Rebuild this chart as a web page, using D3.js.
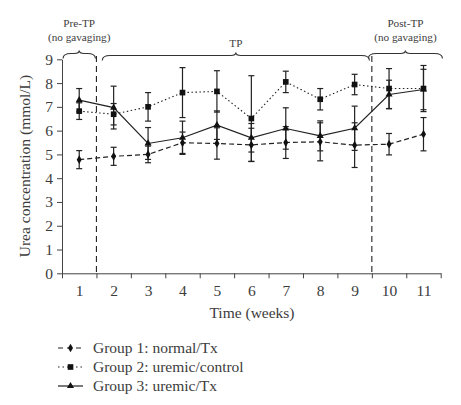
<!DOCTYPE html>
<html><head><meta charset="utf-8">
<script src="https://cdn.jsdelivr.net/npm/d3@7"></script>
<style>body{margin:0;background:#fff}svg{display:block}text{font-family:"Liberation Serif","DejaVu Serif",serif;fill:#3c3c3c}</style>
</head><body><svg id="c" width="461" height="405"></svg>
<script>
const weeks = [1,2,3,4,5,6,7,8,9,10,11];
const yTicks = [0,1,2,3,4,5,6,7,8,9];
const g1 = [4.78,4.92,5.00,5.49,5.46,5.40,5.50,5.53,5.39,5.43,5.85];
const g1Err = [0.38,0.38,0.35,0.45,0.66,0.70,0.67,0.80,0.94,0.45,0.70];
const g2 = [6.82,6.69,7.00,7.60,7.65,6.51,8.05,7.32,7.94,7.77,7.77];
const g2Err = [0.35,0.45,0.60,1.05,0.87,1.80,0.45,0.45,0.43,0.84,0.97];
const g3 = [7.28,6.97,5.46,5.70,6.23,5.70,6.09,5.78,6.10,7.52,7.73];
const g3Err = [0.49,0.90,0.67,0.70,0.60,0.60,0.87,0.63,0.93,0.60,0.85];
const seriesNames = ["Group 1: normal/Tx","Group 2: uremic/control","Group 3: uremic/Tx"];
const phaseLabels = [["Pre-TP","(no gavaging)"],["TP"],["Post-TP","(no gavaging)"]];

const svg = d3.select("#c");
const x = d3.scaleLinear().domain([0.5,11.5]).range([62,440.7]);
const y = d3.scaleLinear().domain([0,9]).range([273.3,59.3]);
const ink = "#222", axisCol = "#444", txt = "#3c3c3c";

// axes
const yAx = svg.append("g").attr("transform","translate(62,0)")
  .call(d3.axisLeft(y).tickValues(yTicks).tickSize(5).tickPadding(4).tickSizeOuter(0));
yAx.select(".domain").attr("stroke",axisCol);
yAx.selectAll(".tick line").attr("stroke",axisCol);
yAx.selectAll("text").attr("font-size",15.5).attr("fill",txt).attr("font-family","Liberation Serif");

const edges = d3.range(0.5,12,1);
const xAx = svg.append("g").attr("transform","translate(0,273.3)")
  .call(d3.axisBottom(x).tickValues(edges).tickSize(5).tickFormat("").tickSizeOuter(0));
xAx.select(".domain").attr("stroke",axisCol);
xAx.selectAll(".tick line").attr("stroke",axisCol);
const xLab = svg.append("g").attr("transform","translate(0,273.3)")
  .call(d3.axisBottom(x).tickValues(weeks).tickSize(0).tickPadding(12).tickFormat(d3.format("d")));
xLab.select(".domain").remove();
xLab.selectAll("text").attr("font-size",15.5).attr("fill",txt).attr("font-family","Liberation Serif");

svg.append("text").attr("x",252).attr("y",318).attr("text-anchor","middle").attr("font-size",15.5).text("Time (weeks)");
svg.append("text").attr("transform","translate(30,166) rotate(-90)").attr("text-anchor","middle").attr("font-size",15.5).text("Urea concentration (mmol/L)");

// phase dividers
[1.5,9.5].forEach(v=>{
  svg.append("line").attr("x1",x(v)).attr("x2",x(v)).attr("y1",56).attr("y2",273.3)
    .attr("stroke",ink).attr("stroke-width",1.1).attr("stroke-dasharray","6,4");
});

// braces
function brace(x1,x2,xm,yl,h){
  const r=5;
  return `M${x1},${yl+h} Q${x1},${yl} ${x1+r+3},${yl} L${xm-r},${yl} Q${xm},${yl} ${xm},${yl-h*0.6} Q${xm},${yl} ${xm+r},${yl} L${x2-r-3},${yl} Q${x2},${yl} ${x2},${yl+h}`;
}
const braces = [
  {x1:x(0.53),x2:x(1.47),yl:53.5,lab:phaseLabels[0],ly:[27,40.5]},
  {x1:x(1.67),x2:x(9.43),yl:55.5,lab:phaseLabels[1],ly:[47]},
  {x1:x(9.4),x2:x(11.55),yl:53.5,lab:phaseLabels[2],ly:[27,40.5]}
];
braces.forEach(b=>{
  const xm=(b.x1+b.x2)/2;
  svg.append("path").attr("d",brace(b.x1,b.x2,xm,b.yl,5)).attr("fill","none").attr("stroke","#333").attr("stroke-width",1.1);
  b.lab.forEach((t,i)=>svg.append("text").attr("x",xm).attr("y",b.ly[i]).attr("text-anchor","middle").attr("font-size",11.2).text(t));
});

// series
const series = [
  {v:g1,e:g1Err,dash:"5,3",mark:"diamond"},
  {v:g2,e:g2Err,dash:"1.5,2.5",mark:"square"},
  {v:g3,e:g3Err,dash:null,mark:"triangle"}
];
const symSize = {diamond:22,square:32,triangle:22};
const symType = {diamond:d3.symbolDiamond,square:d3.symbolSquare,triangle:d3.symbolTriangle};
series.forEach(s=>{
  const g = svg.append("g");
  weeks.forEach((w,i)=>{
    const cx=x(w), t=y(s.v[i]+s.e[i]), b=y(s.v[i]-s.e[i]);
    g.append("line").attr("x1",cx).attr("x2",cx).attr("y1",t).attr("y2",b).attr("stroke",ink).attr("stroke-width",1.2);
    [t,b].forEach(yy=>g.append("line").attr("x1",cx-3).attr("x2",cx+3).attr("y1",yy).attr("y2",yy).attr("stroke",ink).attr("stroke-width",1.2));
  });
});
series.forEach(s=>{
  const line = d3.line().x((d,i)=>x(weeks[i])).y(d=>y(d));
  const p = svg.append("path").datum(s.v).attr("d",line).attr("fill","none").attr("stroke",ink).attr("stroke-width",s.dash==="1.5,2.5"?1.1:1.2);
  if(s.dash) p.attr("stroke-dasharray",s.dash);
  svg.append("g").selectAll("path").data(s.v).join("path")
    .attr("transform",(d,i)=>`translate(${x(weeks[i])},${y(d)})`)
    .attr("d",d3.symbol().type(symType[s.mark]).size(symSize[s.mark])).attr("fill","#111");
});

// legend
series.forEach((s,i)=>{
  const ly = 348 + i*19;
  const l = svg.append("line").attr("x1",58).attr("x2",83).attr("y1",ly).attr("y2",ly).attr("stroke",ink).attr("stroke-width",1.2);
  if(s.dash) l.attr("stroke-dasharray", i===0?"5,4":"1.5,3");
  svg.append("path").attr("transform",`translate(70.5,${ly})`).attr("d",d3.symbol().type(symType[s.mark]).size(symSize[s.mark])).attr("fill","#111");
  svg.append("text").attr("x",93).attr("y",ly+5).attr("font-size",15.5).text(seriesNames[i]);
});
</script></body></html>
